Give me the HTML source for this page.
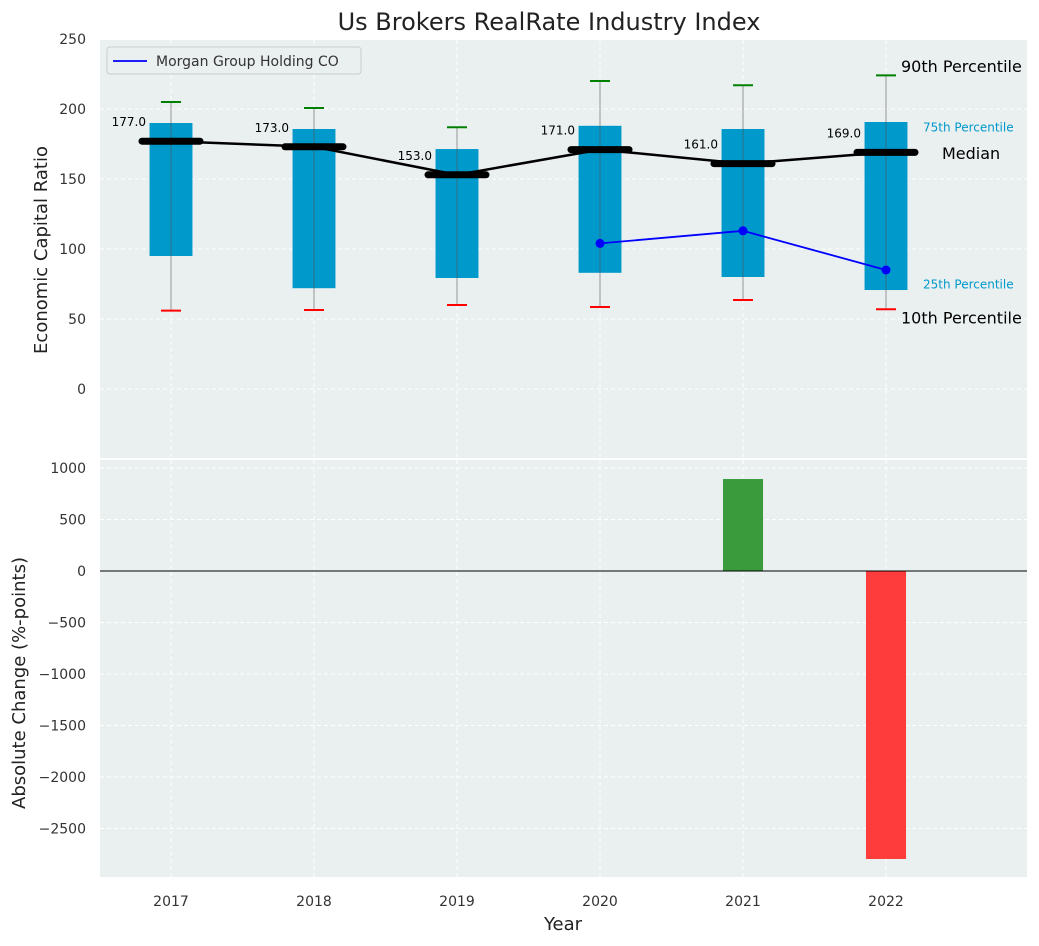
<!DOCTYPE html>
<html><head><meta charset="utf-8"><style>
body{margin:0;background:#fff;font-family:"DejaVu Sans","Liberation Sans",sans-serif}
</style></head><body>
<svg id="c" width="1039" height="942" xmlns="http://www.w3.org/2000/svg"></svg>
<script>
const years=[2017,2018,2019,2020,2021,2022];
const p10=[56,56.4,60,58.6,63.6,57];
const p25=[95,72,79.3,83,80,70.7];
const medians=[177,173,153,171,161,169];
const p75=[190,185.7,171.4,188,185.7,190.7];
const p90=[205,200.7,187,220,217,224];
const companyYears=[2020,2021,2022];
const companyVals=[104,113,85];
const changeYears=[2021,2022];
const changeVals=[893,-2796];
const topTicks=[0,50,100,150,200,250];
const botTicks=[-2500,-2000,-1500,-1000,-500,0,500,1000];

const NS="http://www.w3.org/2000/svg";
const svg=document.getElementById('c');
function el(t,a,p){const e=document.createElementNS(NS,t);for(const k in a)e.setAttribute(k,a[k]);(p||svg).appendChild(e);return e;}
const X0=100,X1=1027;
const x=v=>171+(v-2017)*143;
const yT=v=>389-v*1.4;
const yB=v=>571-v*0.103;

let e=el('rect',{x:X0,y:40,width:X1-X0,height:418,fill:'#eaeff0'});

e=el('rect',{x:X0,y:460,width:X1-X0,height:417,fill:'#eaeff0'});


years.forEach(yr=>{
  el('line',{x1:x(yr),x2:x(yr),y1:40,y2:458,stroke:'#fff','stroke-dasharray':'4,3'});
  el('line',{x1:x(yr),x2:x(yr),y1:460,y2:877,stroke:'#fff','stroke-dasharray':'4,3'});
  e=el('text',{x:x(yr),y:906,'text-anchor':'middle','font-size':14,fill:'#333'});e.textContent=yr;
  
});
topTicks.forEach(t=>{
  el('line',{x1:X0,x2:X1,y1:yT(t),y2:yT(t),stroke:'#fff','stroke-dasharray':'4,3'});
  e=el('text',{x:86,y:yT(t)+5,'text-anchor':'end','font-size':14,fill:'#333'});e.textContent=t;
  
});
botTicks.forEach(t=>{
  el('line',{x1:X0,x2:X1,y1:yB(t),y2:yB(t),stroke:'#fff','stroke-dasharray':'4,3'});
  e=el('text',{x:86,y:yB(t)+5,'text-anchor':'end','font-size':14,fill:'#333'});e.textContent=t<0?'\u2212'+(-t):t;
  
});

years.forEach((yr,i)=>{
  const cx=x(yr),w=0.3*143;
  e=el('rect',{x:cx-w/2,y:yT(p75[i]),width:w,height:yT(p25[i])-yT(p75[i]),fill:'#0099cc'});
  
  e=el('line',{x1:cx,x2:cx,y1:yT(p90[i]),y2:yT(p10[i]),stroke:'#555','stroke-opacity':0.6,'stroke-width':1});
  
  e=el('line',{x1:cx-10,x2:cx+10,y1:yT(p90[i]),y2:yT(p90[i]),stroke:'green','stroke-width':2});
  
  e=el('line',{x1:cx-10,x2:cx+10,y1:yT(p10[i]),y2:yT(p10[i]),stroke:'red','stroke-width':2});
  
});
e=el('polyline',{points:years.map((yr,i)=>x(yr)+','+yT(medians[i])).join(' '),fill:'none',stroke:'#000','stroke-width':2.5});

years.forEach((yr,i)=>{
  const cx=x(yr);
  e=el('line',{x1:cx-29,x2:cx+29,y1:yT(medians[i]),y2:yT(medians[i]),stroke:'#000','stroke-width':7,'stroke-linecap':'round'});
  
  e=el('text',{x:cx-25,y:yT(medians[i])-15,'text-anchor':'end','font-size':12});e.textContent=medians[i].toFixed(1);
  
});
e=el('polyline',{points:companyYears.map((yr,i)=>x(yr)+','+yT(companyVals[i])).join(' '),fill:'none',stroke:'blue','stroke-width':1.8});

companyYears.forEach((yr,i)=>{e=el('circle',{cx:x(yr),cy:yT(companyVals[i]),r:4.5,fill:'blue'});
  });

const last=years.length-1,lx=x(years[last]);
[[lx+15,yT(p90[last])-8,'90th Percentile',16,'#000'],[lx+37,yT(p75[last])+6,'75th Percentile',12,'#0099cc'],
 [lx+56,yT(medians[last])+2,'Median',16,'#000'],[lx+37,yT(p25[last])-5,'25th Percentile',12,'#0099cc'],
 [lx+15,yT(p10[last])+10,'10th Percentile',16,'#000']].forEach(a=>{
  e=el('text',{x:a[0],y:a[1],'font-size':a[3],fill:a[4],'dominant-baseline':'middle'});e.textContent=a[2];
  
});

e=el('rect',{x:107,y:47,width:254,height:27,fill:'#eaeff0',stroke:'#ccc',rx:3});

el('line',{x1:113,x2:147,y1:61,y2:61,stroke:'blue','stroke-width':1.8});
e=el('text',{x:156,y:66,'font-size':14,fill:'#333'});e.textContent='Morgan Group Holding CO';


changeYears.forEach((yr,i)=>{
  const v=changeVals[i],w=0.28*143;
  e=el('rect',{x:x(yr)-w/2,y:Math.min(yB(v),yB(0)),width:w,height:Math.abs(yB(v)-yB(0)),fill:v>=0?'#3a9b3c':'#ff3c3c'});
  
});
e=el('line',{x1:X0,x2:X1,y1:yB(0),y2:yB(0),stroke:'#000','stroke-width':1});


e=el('text',{x:549,y:30,'text-anchor':'middle','font-size':24,fill:'#222'});e.textContent='Us Brokers RealRate Industry Index';

e=el('text',{x:563,y:930,'text-anchor':'middle','font-size':18,fill:'#222'});e.textContent='Year';

e=el('text',{x:47,y:250,'text-anchor':'middle','font-size':18,fill:'#222',transform:'rotate(-90 47 250)'});e.textContent='Economic Capital Ratio';

e=el('text',{x:25,y:683,'text-anchor':'middle','font-size':18,fill:'#222',transform:'rotate(-90 25 683)'});e.textContent='Absolute Change (%-points)';

</script>
</body></html>
